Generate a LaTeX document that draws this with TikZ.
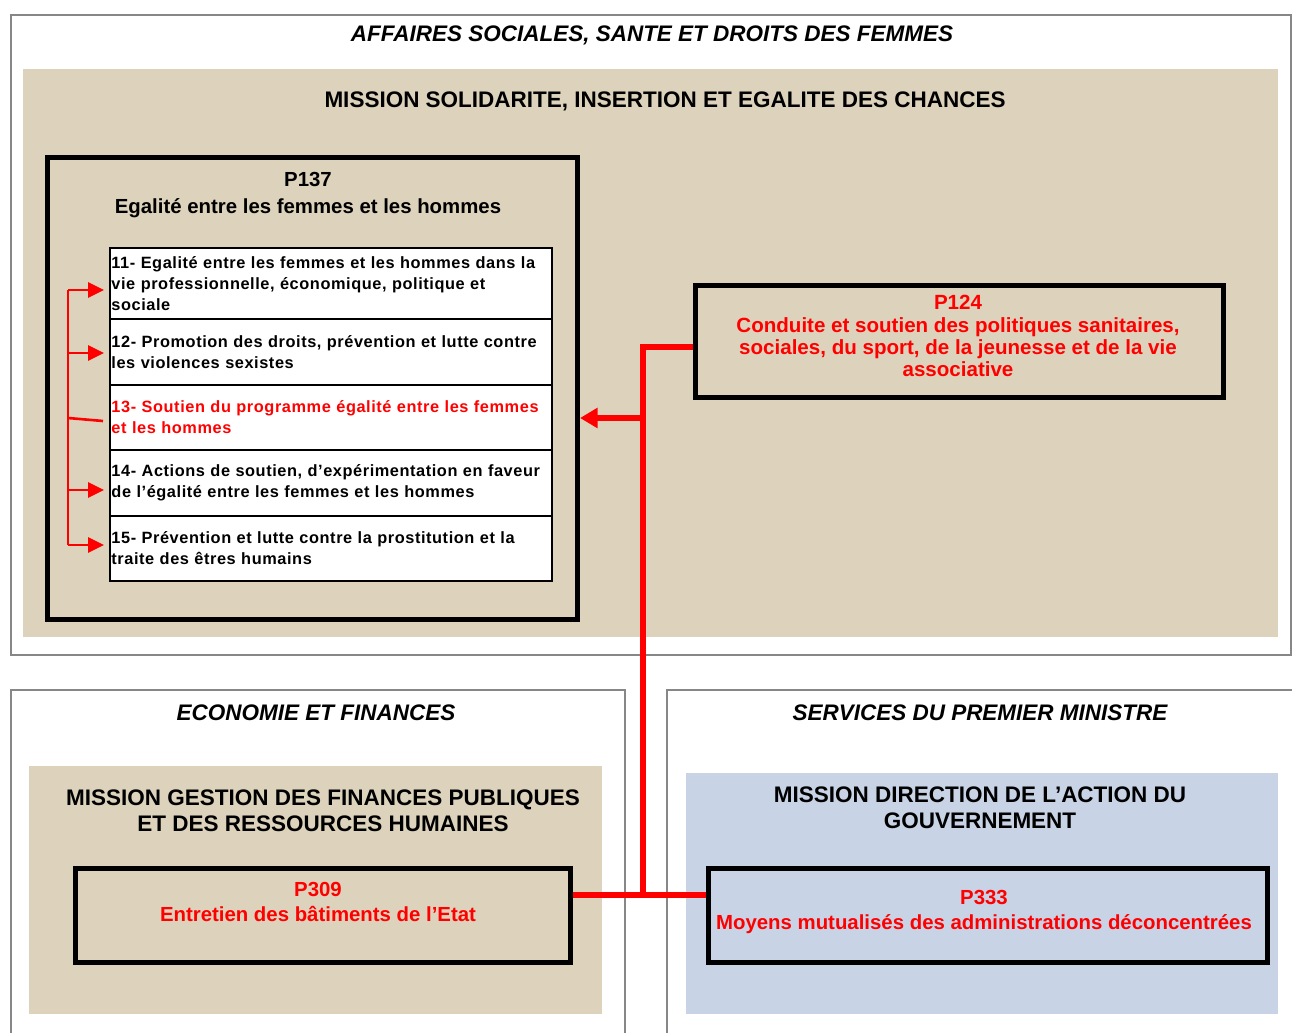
\documentclass[tikz,border=0pt]{standalone}
\usepackage{fontspec}
\setmainfont{Liberation Sans}
\newfontfamily\actfont[LetterSpace=3.5]{Liberation Sans}
\usetikzlibrary{arrows.meta, positioning, calc}
\definecolor{beige}{RGB}{221,211,188}
\definecolor{bluegrey}{RGB}{200,211,230}
\definecolor{framegrey}{RGB}{135,135,135}

\begin{document}
\begin{tikzpicture}[x=0.02cm, y=-0.02cm,
    ministry/.style={draw=framegrey, line width=1.4pt, anchor=north west, inner sep=0pt},
    mission/.style={anchor=north west, inner sep=0pt},
    prog/.style={draw=black, line width=2.9pt, anchor=north west, inner sep=0pt},
    action/.style={draw=black, line width=1.1pt, fill=white, anchor=north west,
        minimum width=8.84cm, text width=8.78cm, align=left, inner xsep=0.03cm,
        font=\actfont\fontsize{9.3}{12}\selectfont\bfseries},
    mintitle/.style={font=\fontsize{12.8}{14}\selectfont\bfseries\itshape},
    mistitle/.style={font=\fontsize{12.8}{14.8}\selectfont\bfseries, align=center},
    progtext/.style={font=\fontsize{11.6}{14}\selectfont\bfseries, align=center},
    redlink/.style={draw=red, line width=3.3pt},
    bracket/.style={draw=red, line width=1.5pt},
    tip/.style={-{Triangle[length=9pt 0,width=8.5pt 0]}},
    bigtip/.style={-{Triangle[length=10pt 0,width=11pt 0]}}
]
\useasboundingbox (0,0) rectangle (1292,1033);

% Affaires sociales
\node[ministry, minimum width=25.6cm, minimum height=12.8cm] (affsoc) at (10,14) {};
\node[mintitle] (affsoc-t) at (652,35) {AFFAIRES SOCIALES, SANTE ET DROITS DES FEMMES};
\node[mission, fill=beige, minimum width=25.1cm, minimum height=11.36cm] (missol) at (23,69) {};
\node[mistitle] (missol-t) at (665,101) {MISSION SOLIDARITE, INSERTION ET EGALITE DES CHANCES};

% P137 and its actions
\node[prog, minimum width=10.6cm, minimum height=9.24cm] (p137) at (45,155) {};
\node[progtext, font=\fontsize{11.6}{15}\selectfont\bfseries] (p137-t) at (308,195) {P137\\Egalité entre les femmes et les hommes};
\node[action, minimum height=1.42cm] (act11) at (109,247) {11- Egalité entre les femmes et les hommes dans la\\vie professionnelle, économique, politique et\\sociale};
\node[action, minimum height=1.32cm] (act12) at (109,318) {12- Promotion des droits, prévention et lutte contre\\les violences sexistes};
\node[action, minimum height=1.3cm, text=red] (act13) at (109,384) {13- Soutien du programme égalité entre les femmes\\et les hommes};
\node[action, minimum height=1.32cm] (act14) at (109,449) {14- Actions de soutien, d’expérimentation en faveur\\de l’égalité entre les femmes et les hommes};
\node[action, minimum height=1.3cm] (act15) at (109,515) {15- Prévention et lutte contre la prostitution et la\\traite des êtres humains};

% P124
\node[prog, minimum width=10.56cm, minimum height=2.24cm] (p124) at (693,283) {};
\node[progtext, text=red, font=\fontsize{11.7}{12.6}\selectfont\bfseries] (p124-t) at (958,336) {P124\\Conduite et soutien des politiques sanitaires,\\sociales, du sport, de la jeunesse et de la vie\\associative};

% Economie et finances
\node[ministry, minimum width=12.28cm, minimum height=7.2cm] (ecofin) at (10,689) {};
\node[mintitle] (ecofin-t) at (316,713) {ECONOMIE ET FINANCES};
\node[mission, fill=beige, minimum width=11.46cm, minimum height=4.96cm] (misgfp) at (29,766) {};
\node[mistitle] (misgfp-t) at (323,811) {MISSION GESTION DES FINANCES PUBLIQUES\\ET DES RESSOURCES HUMAINES};
\node[prog, minimum width=9.9cm, minimum height=1.88cm] (p309) at (73,866) {};
\node[progtext, text=red] (p309-t) at (318,902) {P309\\Entretien des bâtiments de l’Etat};

% Services du Premier ministre
\node[ministry, minimum width=12.8cm, minimum height=7.2cm] (spm) at (666,689) {};
\node[mintitle] (spm-t) at (980,713) {SERVICES DU PREMIER MINISTRE};
\node[mission, fill=bluegrey, minimum width=11.84cm, minimum height=4.82cm] (misdag) at (686,773) {};
\node[mistitle] (misdag-t) at (980,808) {MISSION DIRECTION DE L’ACTION DU\\GOUVERNEMENT};
\node[prog, minimum width=11.18cm, minimum height=1.88cm] (p333) at (706,866) {};
\node[progtext, text=red] (p333-t) at (984,912) {P333\\Moyens mutualisés des administrations déconcentrées};

% red links
\coordinate (jtop) at (643,347);
\coordinate (jarr) at (643,418);
\coordinate (jbot) at (643,895);
\draw[redlink] (p124.west |- jtop) -- (jtop) -- (jbot);
\draw[redlink] (p309.east |- jbot) -- (p333.west |- jbot);
\draw[redlink, bigtip] (jarr) -- (p137.east |- jarr);

% bracket on the actions
\coordinate (brtop) at (68,290);
\coordinate (brbot) at (68,545);
\draw[bracket] (brtop) -- (brbot);
\draw[bracket, tip] (brtop) -- ($(act11.west |- brtop)+(-5,0)$);
\draw[bracket, tip] (68,353) -- ($(act12.west |- 0,353)+(-5,0)$);
\draw[bracket] (68,418) -- ($(act13.west |- 0,421)+(-6,0)$);
\draw[bracket, tip] (68,490) -- ($(act14.west |- 0,490)+(-5,0)$);
\draw[bracket, tip] (brbot) -- ($(act15.west |- brbot)+(-5,0)$);
\end{tikzpicture}
\end{document}
